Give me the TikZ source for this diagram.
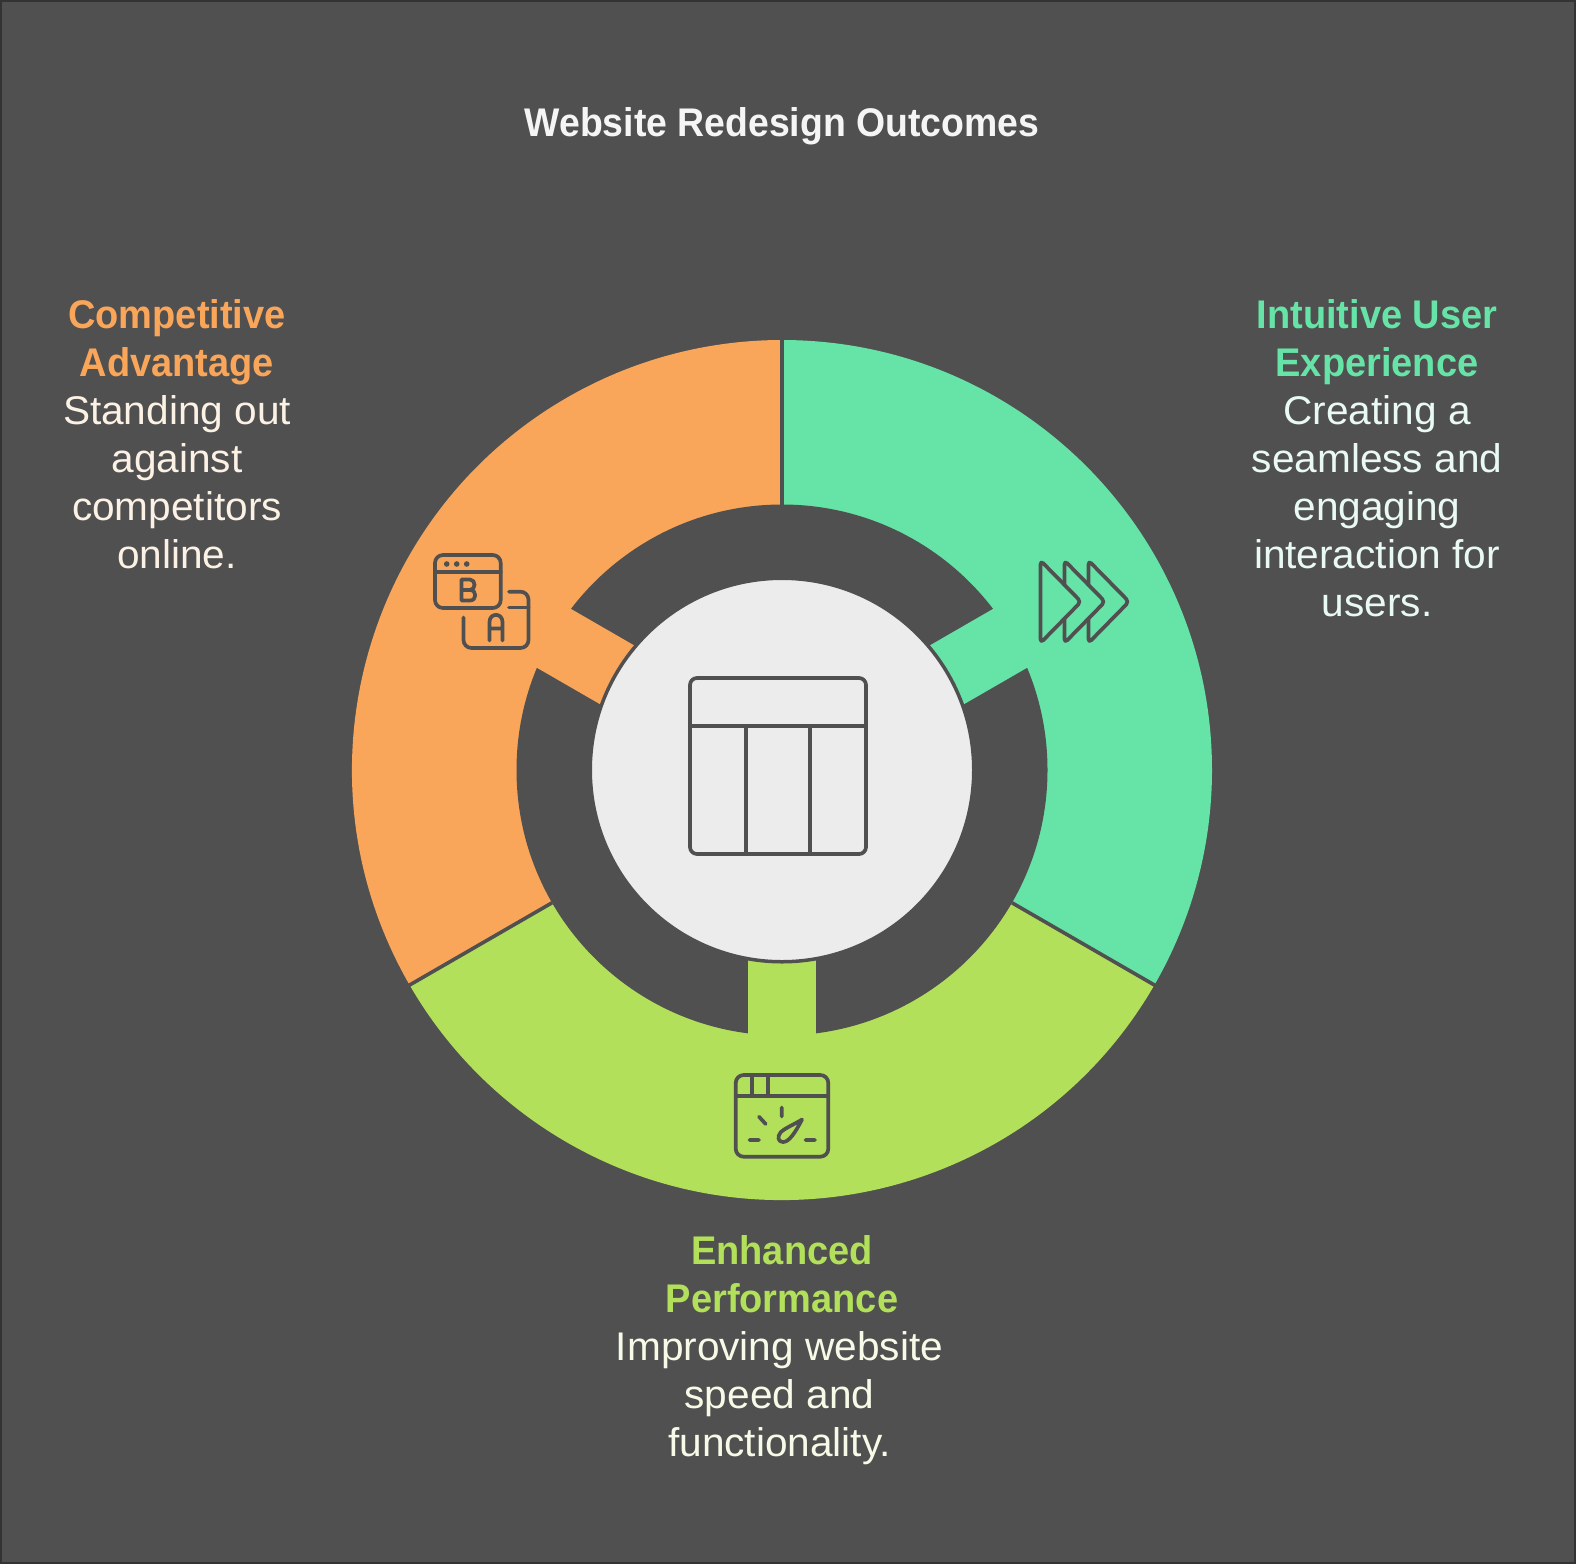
\documentclass[tikz,border=0pt]{standalone}
\usepackage{fontspec}
\setmainfont{Liberation Sans}
\newfontfamily\bodyfont[FakeStretch=1.015]{Liberation Sans}
\newfontfamily\headfont[FakeStretch=0.95]{Liberation Sans Bold}
\newfontfamily\titlefont[FakeStretch=0.935]{Liberation Sans Bold}
\definecolor{bgc}{HTML}{505050}
\definecolor{edgec}{HTML}{333333}
\definecolor{orangec}{HTML}{F9A65A}
\definecolor{tealc}{HTML}{66E3A6}
\definecolor{greenc}{HTML}{B2E05A}
\definecolor{centerc}{HTML}{ECECEC}
\definecolor{titlec}{HTML}{F5F5F5}
\definecolor{bodyoc}{HTML}{FCF1E5}
\definecolor{bodytc}{HTML}{E9FAF2}
\definecolor{bodygc}{HTML}{F6FBE8}
\tikzset{
  x=1pt,y=-1pt,
  icon/.style={draw=bgc,line width=3.7pt,line cap=round,line join=round},
  sep/.style={draw=bgc,line width=3.6pt},
  headtext/.style={align=center,inner sep=0pt,font=\headfont\fontsize{40}{48}\selectfont,anchor=north},
  bodytext/.style={align=center,inner sep=0pt,font=\bodyfont\fontsize{40}{48}\selectfont,anchor=north},
}
\begin{document}
\begin{tikzpicture}
\useasboundingbox (0,0) rectangle (1576,1564);
\fill[bgc] (0,0) rectangle (1576,1564);
\draw[edgec,line width=2pt] (1,1) rectangle (1575,1563);
% sectors
\coordinate (c) at (782,770);
\fill[tealc] (c) -- ++(0,-430) arc[start angle=90,end angle=-30,x radius=430,y radius=-430] -- cycle;
\fill[greenc] (c) -- ++({430*cos(-30)},{430*sin(30)}) arc[start angle=-30,end angle=-150,x radius=430,y radius=-430] -- cycle;
\fill[orangec] (c) -- ++({-430*cos(30)},{430*sin(30)}) arc[start angle=210,end angle=90,x radius=430,y radius=-430] -- cycle;
\fill[bgc] (c) circle[radius=265.5];
% stems
\begin{scope}[shift={(782,770)}]
\fill[greenc] (-34,150) rectangle (34,275);
\fill[orangec,rotate=-120] (-34,150) rectangle (34,275);
\fill[tealc,rotate=120] (-34,150) rectangle (34,275);
\draw[sep] (0,-265.5) -- (0,-432);
\draw[sep] ({265.5*cos(30)},{265.5*sin(30)}) -- ({432*cos(30)},{432*sin(30)});
\draw[sep] ({-265.5*cos(30)},{265.5*sin(30)}) -- ({-432*cos(30)},{432*sin(30)});
\end{scope}
\filldraw[fill=centerc,draw=bgc,line width=3.5pt] (c) circle[radius=191.75];
% table icon
\draw[icon,line cap=butt,rounded corners=7pt] (690,678) rectangle (866,854);
\draw[icon,line cap=butt] (690,726) -- (866,726) (746,726) -- (746,854) (810,726) -- (810,854);
% teal icon
\begin{scope}[icon,fill=tealc,rounded corners=4pt]
\filldraw (1088.5,560.5) -- (1129,601.7) -- (1088.5,643) -- cycle;
\filldraw (1064.5,560.5) -- (1105,601.7) -- (1064.5,643) -- cycle;
\filldraw (1040.5,560.5) -- (1081,601.7) -- (1040.5,643) -- cycle;
\end{scope}
% AB icon
\draw[icon,rounded corners=8pt] (435,555) rectangle (500.7,608);
\draw[icon] (435,571.7) -- (500.7,571.7);
\fill[bgc] (446.7,564) circle[radius=2.8] (456.7,564) circle[radius=2.8] (466.7,564) circle[radius=2.8];
\draw[icon,rounded corners=8pt] (509,591.7) -- (528.5,591.7) -- (528.5,648) -- (463.5,648) -- (463.5,617.5);
\draw[icon] (509,607.5) -- (528.5,607.5);
\draw[icon] (461.5,579.5) -- (461.5,600.5) -- (470,600.5) .. controls (477,600.5) and (477,590) .. (470,590) -- (461.5,590) (470,590) .. controls (476,590) and (476,579.5) .. (470,579.5) -- (461.5,579.5);
\draw[icon] (489.5,640.5) -- (489.5,622) .. controls (489.5,612.5) and (502.5,612.5) .. (502.5,622) -- (502.5,640.5) (489.5,628.5) -- (502.5,628.5);
% gauge icon
\draw[icon,rounded corners=8pt] (735.7,1075) rectangle (828.3,1156.7);
\draw[icon] (735.7,1095.7) -- (828.3,1095.7) (752,1075) -- (752,1095.7) (767.7,1075) -- (767.7,1095.7);
\draw[icon] (781.7,1107.5) -- (781.7,1116.5) (759,1116.7) -- (765.7,1124) (749.5,1140) -- (759,1140) (805.5,1140) -- (815,1140);
\draw[icon] (802,1119.5) .. controls (795,1124) and (784,1128.5) .. (780.5,1132.5) .. controls (777,1136.5) and (778,1142) .. (783,1142) .. controls (789,1142) and (795,1133) .. cycle;
% text
\node[font=\titlefont\fontsize{40}{48}\selectfont,text=titlec,inner sep=0pt] (title) at (782,126) {Website Redesign Outcomes};
\node[headtext,text=orangec] (h1) at (177,299) {Competitive\\Advantage};
\node[bodytext,text=bodyoc] (b1) at (177,395) {Standing out\\against\\competitors\\online.};
\node[headtext,text=tealc] (h2) at (1377,299) {Intuitive User\\Experience};
\node[bodytext,text=bodytc] (b2) at (1377,395) {Creating a\\seamless and\\engaging\\interaction for\\users.};
\node[headtext,text=greenc] (h3) at (782,1235) {Enhanced\\Performance};
\node[bodytext,text=bodygc] (b3) at (779.5,1331) {Improving website\\speed and\\functionality.};
\end{tikzpicture}
\end{document}
